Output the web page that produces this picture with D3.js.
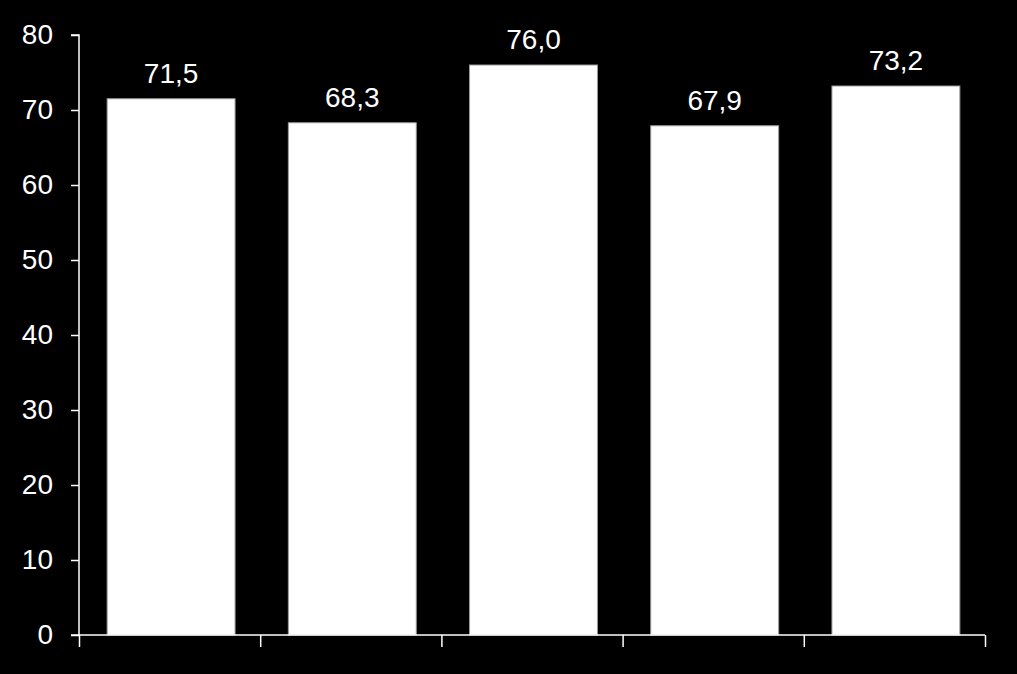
<!DOCTYPE html>
<html>
<head>
<meta charset="utf-8">
<script src="https://cdn.jsdelivr.net/npm/d3@7"></script>
<style>
  html, body { margin: 0; padding: 0; background: #000; }
  svg { display: block; }
  .axis text { font-family: "Liberation Sans", Arial, sans-serif; font-size: 28px; fill: #fff; }
  .axis path, .axis line { stroke: #fff; stroke-width: 1.5; }
</style>
</head>
<body>
<div id="the_chart"></div>
<script>
var categories = ["A", "B", "C", "D", "E"];
var values = [71.5, 68.3, 76.0, 67.9, 73.2];
var yTicks = [0, 10, 20, 30, 40, 50, 60, 70, 80];

var w = 1017;
var h = 674;
var margin = {top: 35, right: 32, bottom: 39, left: 79};

var svg = d3.select("#the_chart")
  .append("svg")
  .attr("width", w)
  .attr("height", h)
  .style("background", "#000");

// bars sit a hair right of the band centre in the original
var xscale = d3.scaleBand()
  .domain(categories)
  .range([margin.left + 1.5, w - margin.right + 1.5])
  .paddingInner(0.294)
  .paddingOuter(0.147);

var yscale = d3.scaleLinear()
  .domain([0, 80])
  .range([h - margin.bottom, margin.top]);

// bars
svg.selectAll("rect.bar")
  .data(values)
  .enter().append("rect")
  .attr("class", "bar")
  .attr("x", function(d, i) { return xscale(categories[i]); })
  .attr("y", function(d) { return yscale(d); })
  .attr("width", xscale.bandwidth())
  .attr("height", function(d) { return yscale(0) - yscale(d); })
  .attr("fill", "#fff")
  .attr("stroke", "#9a9a9a")
  .attr("stroke-width", 1);

// value labels
svg.selectAll("text.val")
  .data(values)
  .enter().append("text")
  .attr("class", "val")
  .attr("x", function(d, i) { return xscale(categories[i]) + xscale.bandwidth() / 2; })
  .attr("y", function(d) { return yscale(d) - 16; })
  .attr("text-anchor", "middle")
  .attr("fill", "#fff")
  .style("font-family", "'Liberation Sans', Arial, sans-serif")
  .style("font-size", "28px")
  .text(function(d) { return d3.format(".1f")(d).replace(".", ","); });

// y axis
var yaxis = d3.axisLeft(yscale)
  .tickValues(yTicks)
  .tickSize(8)
  .tickPadding(18)
  .tickFormat(d3.format("d"));

svg.append("g")
  .attr("class", "y axis")
  .attr("transform", "translate(" + margin.left + ",0)")
  .call(yaxis)
  .call(function(g) { g.select(".domain").attr("d", "M-8," + yscale(80) + "H0V" + yscale(0)); });

// x axis: boundary ticks between categories, no labels
var xlin = d3.scaleLinear()
  .domain([0, categories.length])
  .range([margin.left, w - margin.right]);

var xaxis = d3.axisBottom(xlin)
  .tickValues(d3.range(0, categories.length + 1))
  .tickSize(12)
  .tickSizeOuter(0)
  .tickFormat("");

svg.append("g")
  .attr("class", "x axis")
  .attr("transform", "translate(0," + yscale(0) + ")")
  .call(xaxis)
  .call(function(g) { g.select(".domain").attr("d", "M" + (margin.left - 8) + ",0H" + (w - margin.right)); });
</script>
</body>
</html>
